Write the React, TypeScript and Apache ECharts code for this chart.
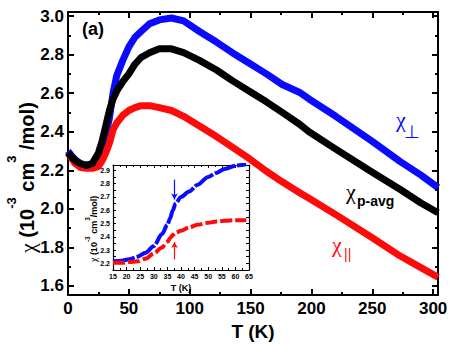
import React, { useEffect, useRef } from "react";
import * as echarts from "echarts";

// ---------- Main panel data ----------
const T_MAIN = [0, 3, 6, 10, 15, 20, 25, 28, 31, 34, 37, 40, 45, 50, 55, 60, 67, 75, 85, 95, 108, 122, 135, 149, 163, 176, 190, 198, 220, 250, 273, 290, 304];
const CHI_PERP = [2.30, 2.275, 2.255, 2.235, 2.225, 2.235, 2.28, 2.32, 2.38, 2.47, 2.60, 2.69, 2.77, 2.84, 2.89, 2.92, 2.96, 2.98, 2.99, 2.975, 2.92, 2.865, 2.81, 2.755, 2.70, 2.645, 2.605, 2.57, 2.48, 2.35, 2.245, 2.175, 2.11];
const CHI_AVG = [2.29, 2.27, 2.25, 2.235, 2.225, 2.235, 2.29, 2.35, 2.43, 2.51, 2.57, 2.61, 2.66, 2.70, 2.75, 2.785, 2.81, 2.83, 2.83, 2.81, 2.77, 2.72, 2.665, 2.61, 2.555, 2.50, 2.44, 2.40, 2.31, 2.19, 2.10, 2.03, 1.98];
const CHI_PAR = [2.29, 2.26, 2.235, 2.215, 2.21, 2.21, 2.22, 2.25, 2.29, 2.34, 2.41, 2.445, 2.485, 2.51, 2.525, 2.535, 2.535, 2.525, 2.51, 2.48, 2.43, 2.375, 2.32, 2.26, 2.195, 2.14, 2.085, 2.055, 1.97, 1.85, 1.755, 1.695, 1.645];

const MAIN_Y_TICKS = [1.6, 1.8, 2.0, 2.2, 2.4, 2.6, 2.8, 3.0];
const MAIN_Y_MINOR = [1.7, 1.9, 2.1, 2.3, 2.5, 2.7, 2.9];

// ---------- Inset data ----------
const T_IN = [15, 18, 21, 24, 27, 30, 33, 35, 36, 37, 38, 40, 43, 46, 50, 53, 56, 60, 64];
const CHI_PERP_IN = [2.215, 2.22, 2.23, 2.25, 2.28, 2.33, 2.42, 2.49, 2.54, 2.60, 2.65, 2.70, 2.74, 2.79, 2.85, 2.88, 2.91, 2.935, 2.945];
const CHI_PAR_IN = [2.205, 2.205, 2.21, 2.215, 2.235, 2.275, 2.32, 2.36, 2.39, 2.415, 2.43, 2.445, 2.47, 2.49, 2.505, 2.515, 2.52, 2.525, 2.525];
const T_ARROW = 37.6;
const PERP_ARROW = [2.83, 2.68];
const PAR_ARROW = [2.23, 2.36];

const FAMILY = "'Liberation Sans', Arial, Helvetica, sans-serif";
const SERIF = "'Liberation Serif', 'DejaVu Serif', serif";
const BLUE = "#0a0aff";
const RED = "#ff0a0a";

function measure(text: string, font: string) {
  const c = document.createElement("canvas").getContext("2d");
  if (!c) return text.length * 8;
  c.font = font;
  return c.measureText(text).width;
}

type Part = { t: string; sup?: boolean; greek?: boolean };
function rotatedTitle(x: number, y: number, parts: Part[], size: number, supSize: number, supShift: number) {
  const children: any[] = [];
  let off = 0;
  for (const p of parts) {
    const fs = p.sup ? supSize : p.greek ? size * 1.1 : size;
    const font = p.greek ? `${fs}px ${SERIF}` : `bold ${fs}px ${FAMILY}`;
    children.push({
      type: "text",
      style: {
        text: p.t,
        x: off,
        y: p.sup ? supShift : 0,
        font,
        fill: "#000",
        align: "left",
        textAlign: "left",
        verticalAlign: "middle",
        textVerticalAlign: "middle",
      },
    });
    off += measure(p.t, font);
  }
  return { type: "group", x, y, rotation: Math.PI / 2, children };
}

function txt(text: string, x: number, y: number, size: number, color: string, bold = false, family = FAMILY) {
  return {
    type: "text",
    style: {
      text,
      x,
      y,
      font: `${bold ? "bold " : ""}${size}px ${family}`,
      fill: color,
      align: "left",
      textAlign: "left",
      verticalAlign: "middle",
      textVerticalAlign: "middle",
    },
  };
}

export default function App() {
  const ref = useRef<HTMLDivElement>(null);
  useEffect(() => {
    if (!ref.current) return;
    const chart = echarts.init(ref.current, undefined, { renderer: "svg" });
    const axisLine = { show: true, lineStyle: { color: "#000", width: 2 } };
    const mainLabel = { color: "#000", fontWeight: "bold" as const, fontSize: 17, fontFamily: FAMILY };
    const insetLabel = { color: "#000", fontWeight: "bold" as const, fontSize: 7, fontFamily: FAMILY, margin: 3 };

    const zip = (xs: number[], ys: number[]) => xs.map((x, i) => [x, ys[i]]);

    const option: any = {
      animation: false,
      backgroundColor: "#fff",
      grid: [
        { left: 68, right: 12, top: 12, bottom: 50, outerBoundsMode: "none" },
        { left: 113, top: 165, width: 136, height: 105, show: true, backgroundColor: "#fff", borderWidth: 0, outerBoundsMode: "none" },
      ],
      xAxis: [
        {
          gridIndex: 0, type: "value", position: "bottom", min: 0, max: 304, interval: 50,
          axisLine, splitLine: { show: false },
          axisTick: { inside: true, length: 6, lineStyle: { width: 2, color: "#000" } },
          minorTick: { show: true, splitNumber: 2, length: 3, lineStyle: { width: 2, color: "#000" } },
          axisLabel: { ...mainLabel, margin: 5 },
          name: "T (K)", nameLocation: "middle", nameGap: 17,
          nameTextStyle: { color: "#000", fontWeight: "bold", fontSize: 19, fontFamily: FAMILY, verticalAlign: "top" },
        },
        {
          gridIndex: 0, type: "value", position: "top", min: 0, max: 304, interval: 50,
          axisLine, splitLine: { show: false }, axisLabel: { show: false },
          axisTick: { inside: true, length: 6, lineStyle: { width: 2, color: "#000" } },
          minorTick: { show: true, splitNumber: 2, length: 3, lineStyle: { width: 2, color: "#000" } },
        },
        {
          gridIndex: 1, type: "value", position: "bottom", min: 15, max: 65, interval: 5,
          axisLine: { show: true, lineStyle: { color: "#000", width: 1.2 } }, splitLine: { show: false },
          axisTick: { inside: true, length: 3, lineStyle: { width: 1, color: "#000" } },
          minorTick: { show: true, splitNumber: 2, length: 2, lineStyle: { width: 1, color: "#000" } },
          axisLabel: insetLabel,
          name: "T (K)", nameLocation: "middle", nameGap: 13,
          nameTextStyle: { color: "#000", fontWeight: "bold", fontSize: 9, fontFamily: FAMILY, verticalAlign: "top" },
        },
        {
          gridIndex: 1, type: "value", position: "top", min: 15, max: 65, interval: 5,
          axisLine: { show: true, lineStyle: { color: "#000", width: 1.2 } }, splitLine: { show: false },
          axisLabel: { show: false },
          axisTick: { inside: true, length: 3, lineStyle: { width: 1, color: "#000" } },
          minorTick: { show: true, splitNumber: 2, length: 2, lineStyle: { width: 1, color: "#000" } },
        },
      ],
      yAxis: [
        {
          gridIndex: 0, type: "value", position: "left", min: 1.553, max: 3.021,
          axisLine, splitLine: { show: false },
          axisTick: { inside: true, length: 6, customValues: MAIN_Y_TICKS, lineStyle: { width: 2, color: "#000" } },
          axisLabel: { ...mainLabel, margin: 4, customValues: MAIN_Y_TICKS, formatter: (v: number) => v.toFixed(1) },
        },
        {
          gridIndex: 0, type: "value", position: "left", min: 1.553, max: 3.021,
          axisLine: { show: false }, splitLine: { show: false }, axisLabel: { show: false },
          axisTick: { inside: true, length: 3, customValues: MAIN_Y_MINOR, lineStyle: { width: 2, color: "#000" } },
        },
        {
          gridIndex: 0, type: "value", position: "right", min: 1.553, max: 3.021,
          axisLine, splitLine: { show: false }, axisLabel: { show: false },
          axisTick: { inside: true, length: 6, customValues: MAIN_Y_TICKS, lineStyle: { width: 2, color: "#000" } },
        },
        {
          gridIndex: 0, type: "value", position: "right", min: 1.553, max: 3.021,
          axisLine: { show: false }, splitLine: { show: false }, axisLabel: { show: false },
          axisTick: { inside: true, length: 3, customValues: MAIN_Y_MINOR, lineStyle: { width: 2, color: "#000" } },
        },
        {
          gridIndex: 1, type: "value", position: "left", min: 2.15, max: 2.94, interval: 0.05,
          axisLine: { show: true, lineStyle: { color: "#000", width: 1.2 } }, splitLine: { show: false },
          axisTick: { inside: true, length: 3, lineStyle: { width: 1, color: "#000" } },
          axisLabel: {
            ...insetLabel,
            formatter: (v: number) => (Math.abs(v * 10 - Math.round(v * 10)) < 1e-6 ? v.toFixed(1) : ""),
          },
        },
        {
          gridIndex: 1, type: "value", position: "right", min: 2.15, max: 2.94, interval: 0.05,
          axisLine: { show: true, lineStyle: { color: "#000", width: 1.2 } }, splitLine: { show: false },
          axisLabel: { show: false },
          axisTick: { inside: true, length: 3, lineStyle: { width: 1, color: "#000" } },
        },
      ],
      series: [
        {
          type: "line", xAxisIndex: 0, yAxisIndex: 0, data: zip(T_MAIN, CHI_PERP), showSymbol: false,
          smooth: false, lineStyle: { color: BLUE, width: 7, join: "round" }, itemStyle: { color: BLUE },
        },
        {
          type: "line", xAxisIndex: 0, yAxisIndex: 0, data: zip(T_MAIN, CHI_PAR), showSymbol: false,
          smooth: false, lineStyle: { color: RED, width: 7, join: "round" }, itemStyle: { color: RED },
        },
        {
          type: "line", xAxisIndex: 0, yAxisIndex: 0, data: zip(T_MAIN, CHI_AVG), showSymbol: false,
          smooth: false, lineStyle: { color: "#000", width: 7, join: "round" }, itemStyle: { color: "#000" },
        },
        {
          type: "line", xAxisIndex: 2, yAxisIndex: 4, data: zip(T_IN, CHI_PERP_IN), showSymbol: false, z: 5,
          smooth: 0.3, smoothMonotone: "x", lineStyle: { color: BLUE, width: 4, type: [22, 2] }, itemStyle: { color: BLUE },
          markLine: {
            silent: true, symbol: ["none", "arrow"], symbolSize: [5, 6], label: { show: false },
            lineStyle: { color: BLUE, width: 1.2, type: "solid" },
            data: [[{ coord: [T_ARROW, PERP_ARROW[0]] }, { coord: [T_ARROW, PERP_ARROW[1]] }]],
          },
        },
        {
          type: "line", xAxisIndex: 2, yAxisIndex: 4, data: zip(T_IN, CHI_PAR_IN), showSymbol: false, z: 5,
          smooth: 0.3, smoothMonotone: "x", lineStyle: { color: RED, width: 4, type: [12, 3] }, itemStyle: { color: RED },
          markLine: {
            silent: true, symbol: ["none", "arrow"], symbolSize: [5, 6], label: { show: false },
            lineStyle: { color: RED, width: 1.2, type: "solid" },
            data: [[{ coord: [T_ARROW, PAR_ARROW[0]] }, { coord: [T_ARROW, PAR_ARROW[1]] }]],
          },
        },
      ],
      graphic: [
        rotatedTitle(27, 253, [
          { t: "\u03c7", greek: true }, { t: " (10" }, { t: "-3", sup: true }, { t: " cm" }, { t: "3", sup: true }, { t: " /mol)" },
        ], 20, 13, -16),
        rotatedTitle(93.5, 262, [
          { t: "\u03c7", greek: true }, { t: " (10" }, { t: "-3", sup: true }, { t: " cm" }, { t: "3", sup: true }, { t: "/mol)" },
        ], 9, 6.5, -6),
        txt("(a)", 82, 29, 18, "#000", true),
        txt("\u03c7", 396, 119, 22, BLUE, false, SERIF),
        txt("\u22a5", 404, 132, 18, BLUE),
        txt("\u03c7", 346, 191, 22, "#000", false, SERIF),
        txt("p-avg", 357, 201, 14, "#000", true),
        txt("\u03c7", 332, 244, 22, RED, false, SERIF),
        txt("||", 344, 254, 14, RED),
      ],
    };
    chart.setOption(option);
    return () => chart.dispose();
  }, []);
  return <div ref={ref} style={{ width: 450, height: 345, position: "absolute", left: 0, top: 0 }} />;
}
